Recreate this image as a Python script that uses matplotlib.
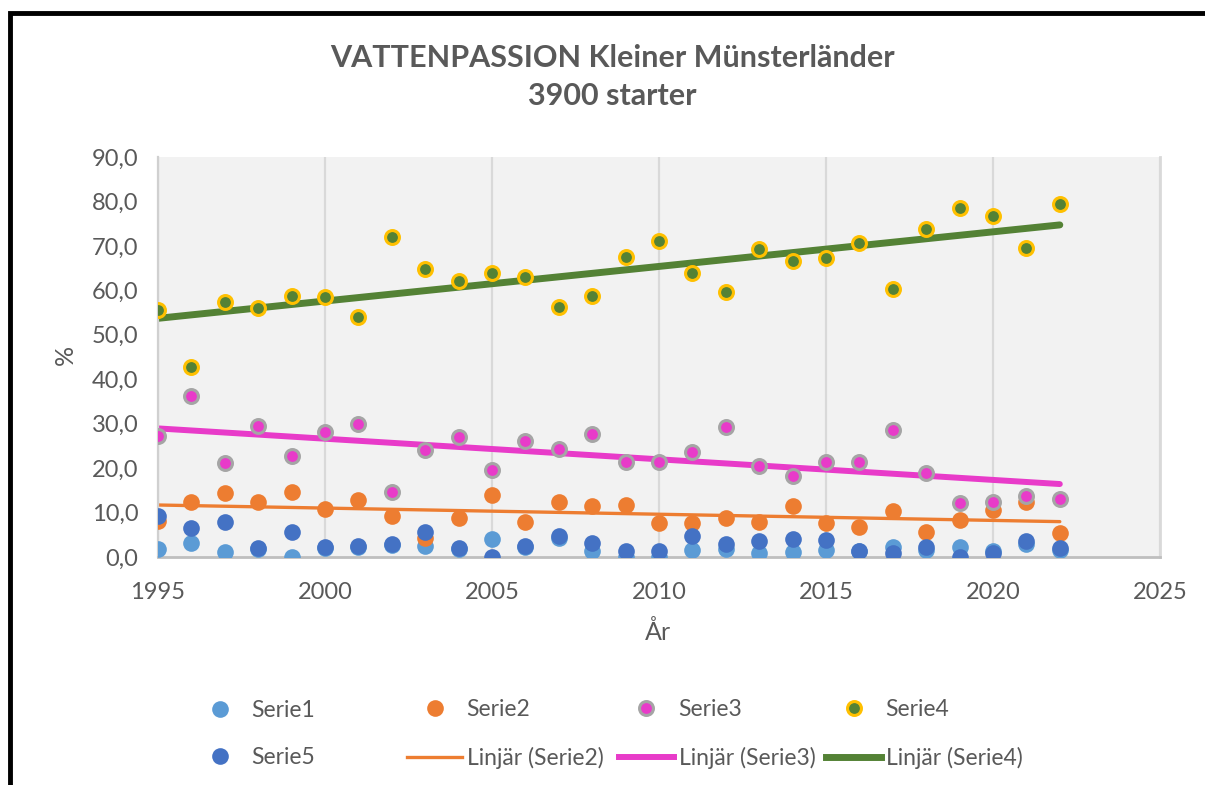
import numpy as np
import matplotlib
matplotlib.use('Agg')
import matplotlib.pyplot as plt
from matplotlib.lines import Line2D
from matplotlib.patches import Rectangle
from matplotlib.ticker import FuncFormatter

plt.rcParams['font.family'] = ['Lato', 'DejaVu Sans']

# data
years = list(range(1995, 2023))
serie1 = [1.7, 3.2, 1.2, 1.8, 0.1, 2.0, 2.3, 2.7, 2.5, 1.8, 4.1, 2.3, 4.3, 1.4,
          0.0, 0.1, 1.6, 1.7, 1.0, 1.2, 1.6, 1.3, 2.2, 1.5, 2.3, 1.4, 2.9, 1.6]
serie2 = [8.0, 12.4, 14.3, 12.3, 14.7, 10.7, 12.8, 9.2, 4.2, 8.7, 14.0, 7.9, 12.4, 11.5,
          11.7, 7.6, 7.6, 8.7, 7.8, 11.5, 7.6, 6.8, 10.4, 5.7, 8.3, 10.6, 12.3, 5.5]
serie3 = [27.3, 36.3, 21.1, 29.5, 22.7, 28.2, 29.9, 14.6, 24.1, 27.1, 19.6, 26.1, 24.2, 27.7,
          21.4, 21.4, 23.7, 29.3, 20.5, 18.3, 21.4, 21.4, 28.6, 19.0, 12.2, 12.4, 13.8, 13.1]
serie4 = [55.6, 42.8, 57.4, 56.1, 58.7, 58.4, 54.0, 71.9, 64.9, 62.1, 64.0, 63.1, 56.2, 58.7,
          67.4, 71.0, 63.9, 59.6, 69.2, 66.7, 67.3, 70.7, 60.2, 73.9, 78.5, 76.7, 69.5, 79.4]
serie5 = [9.2, 6.6, 7.8, 2.0, 5.7, 2.2, 2.5, 2.9, 5.7, 2.0, 0.1, 2.5, 4.7, 3.1,
          1.4, 1.4, 4.8, 2.9, 3.6, 4.0, 3.9, 1.3, 1.0, 2.3, 0.0, 0.8, 3.6, 2.1]

title = 'VATTENPASSION Kleiner Münsterländer\n3900 starter'
txt = '#595959'

fig = plt.figure(figsize=(12.05, 7.85), dpi=100)
fig.patch.set_facecolor('white')
ax = fig.add_axes([158/1205, 1-557/785, (1160-158)/1205, (557-157)/785])
ax.set_facecolor('#f2f2f2')

x = np.array(years)

def trend(vals):
    k, m = np.polyfit(x, np.array(vals), 1)
    return k*x + m

# trend lines under the markers
ax.plot(x, trend(serie2), color='#ed7d31', lw=2.4, zorder=2, solid_capstyle='round')
ax.plot(x, trend(serie3), color='#e83bc9', lw=4.3, zorder=2, solid_capstyle='round')
ax.plot(x, trend(serie4), color='#548235', lw=5.0, zorder=2, solid_capstyle='round')

ax.plot(x, serie1, 'o', color='#5b9bd5', ms=12, mew=0, zorder=3)
ax.plot(x, serie2, 'o', color='#ed7d31', ms=12, mew=0, zorder=4)
ax.plot(x, serie3, 'o', mfc='#e83bc9', mec='#a5a5a5', ms=10, mew=2.2, zorder=5)
ax.plot(x, serie4, 'o', mfc='#548235', mec='#ffc000', ms=10, mew=2.2, zorder=6)
ax.plot(x, serie5, 'o', color='#4472c4', ms=12, mew=0, zorder=7)

ax.set_xlim(1995, 2025)
ax.set_ylim(0, 90)
ax.set_xticks(range(1995, 2026, 5))
ax.set_yticks(range(0, 91, 10))
ax.yaxis.set_major_formatter(FuncFormatter(lambda v, p: ('%.1f' % v).replace('.', ',')))
ax.grid(axis='x', color='#d9d9d9', lw=1.6, zorder=0)
ax.set_axisbelow(True)
ax.tick_params(length=0, labelsize=17, labelcolor=txt)
ax.tick_params(axis='x', pad=18)
ax.tick_params(axis='y', pad=14)
ax.spines['top'].set_visible(False)
ax.spines['left'].set_color('#d0d0d0')
ax.spines['left'].set_linewidth(1.6)
ax.spines['bottom'].set_color('#bfbfbf')
ax.spines['bottom'].set_linewidth(2)
ax.spines['right'].set_color('#d9d9d9')
ax.spines['right'].set_linewidth(2)

fig.text(65/1205, 1-355/785, '%', rotation=90, ha='center', va='center', fontsize=18, color=txt)
fig.text(658/1205, 1-632/785, 'År', ha='center', va='center', fontsize=18, color=txt)
fig.text(612/1205, 1-77/785, title, ha='center', va='center', fontsize=22, fontweight='bold',
         color=txt, linespacing=1.4)

# legend, four columns of two rows
cols = [
    (192, Line2D([], [], ls='', marker='o', color='#5b9bd5', ms=12, mew=0), 'Serie1',
     Line2D([], [], ls='', marker='o', color='#4472c4', ms=12, mew=0), 'Serie5'),
    (407, Line2D([], [], ls='', marker='o', color='#ed7d31', ms=12, mew=0), 'Serie2',
     Line2D([], [], color='#ed7d31', lw=2.4), 'Linjär (Serie2)'),
    (619, Line2D([], [], ls='', marker='o', mfc='#e83bc9', mec='#a5a5a5', ms=10, mew=2.2), 'Serie3',
     Line2D([], [], color='#e83bc9', lw=4.3), 'Linjär (Serie3)'),
    (826, Line2D([], [], ls='', marker='o', mfc='#548235', mec='#ffc000', ms=10, mew=2.2), 'Serie4',
     Line2D([], [], color='#548235', lw=5.0), 'Linjär (Serie4)'),
]
for px, h1, l1, h2, l2 in cols:
    lg = fig.legend([h1, h2], [l1, l2], loc='center left', bbox_to_anchor=(px/1205, 1-734/785),
                    frameon=False, fontsize=16.5, labelcolor=txt, handlelength=2.4,
                    handletextpad=0.2, borderpad=0, borderaxespad=0, labelspacing=1.15)

# black frame around the chart
fig.patches.append(Rectangle((10/1205, -0.05), (1230-10)/1205, (1-13/785)+0.05,
                             transform=fig.transFigure, fill=False, ec='black', lw=3.5))

fig.savefig('out.png', dpi=100)
